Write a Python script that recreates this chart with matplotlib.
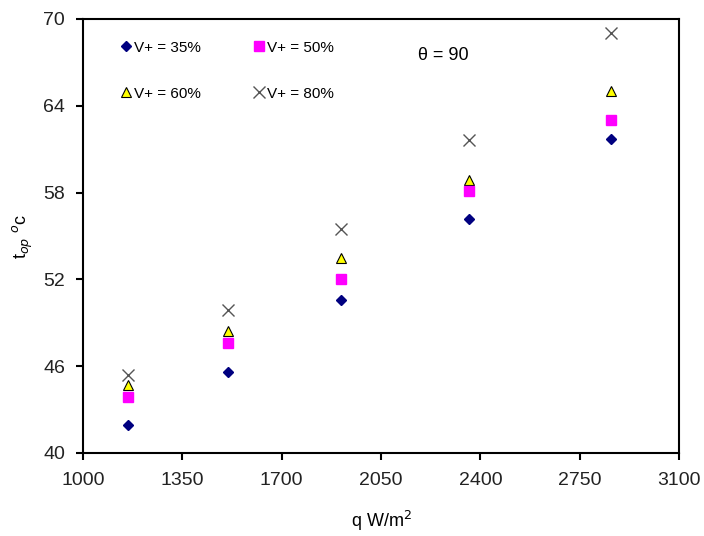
import matplotlib.pyplot as plt

plt.rcParams['font.family'] = ['Liberation Sans', 'DejaVu Sans']

# heat flux q (W/m2)
q = [1160, 1510, 1910, 2360, 2860]

# operating temperature for each filling ratio
t_35 = [41.9, 45.6, 50.6, 56.2, 61.7]
t_50 = [43.9, 47.6, 52.0, 58.1, 63.0]
t_60 = [44.7, 48.4, 53.5, 58.9, 65.0]
t_80 = [45.4, 49.9, 55.5, 61.6, 69.0]

x_ticks = [1000, 1350, 1700, 2050, 2400, 2750, 3100]
y_ticks = [40, 46, 52, 58, 64, 70]

fig = plt.figure(figsize=(7.04, 5.36), dpi=100)
ax = fig.add_axes([0.1179, 0.1549, 0.8466, 0.8097])

ax.plot(q, t_35, 'D', color='#000080', markersize=5.5, linestyle='none', label='V+ = 35%')
ax.plot(q, t_60, '^', markerfacecolor='#ffff00', markeredgecolor='black', markeredgewidth=0.8,
        markersize=7, linestyle='none', label='V+ = 60%')
ax.plot(q, t_50, 's', color='#ff00ff', markersize=6.5, linestyle='none', label='V+ = 50%')
ax.plot(q, t_80, 'x', color='#555555', markersize=9, markeredgewidth=1.0, linestyle='none',
        label='V+ = 80%')

ax.set_xlim(1000, 3100)
ax.set_ylim(40, 70)
ax.set_xticks(x_ticks)
ax.set_yticks(y_ticks)
ax.tick_params(direction='out', length=5, width=1.5, labelsize=14, labelcolor='#222222')
ax.tick_params(axis='x', pad=9)
ax.tick_params(axis='y', pad=8)
for s in ax.spines.values():
    s.set_linewidth(1.5)

ax.set_xlabel('q W/m$^2$', fontsize=13, labelpad=14)
ax.set_ylabel('t$_{op}$ $^{o}$c', fontsize=13, labelpad=6)

ax.legend(ncol=2, loc='upper left', bbox_to_anchor=(0.037, 0.982), frameon=False, fontsize=11,
          handletextpad=0.0, columnspacing=3.3, labelspacing=2.1, handlelength=1.0)

ax.text(0.605, 0.915, '\u03b8 = 90', transform=ax.transAxes, fontsize=13, ha='center', va='center')

fig.savefig('out.png', dpi=100)
